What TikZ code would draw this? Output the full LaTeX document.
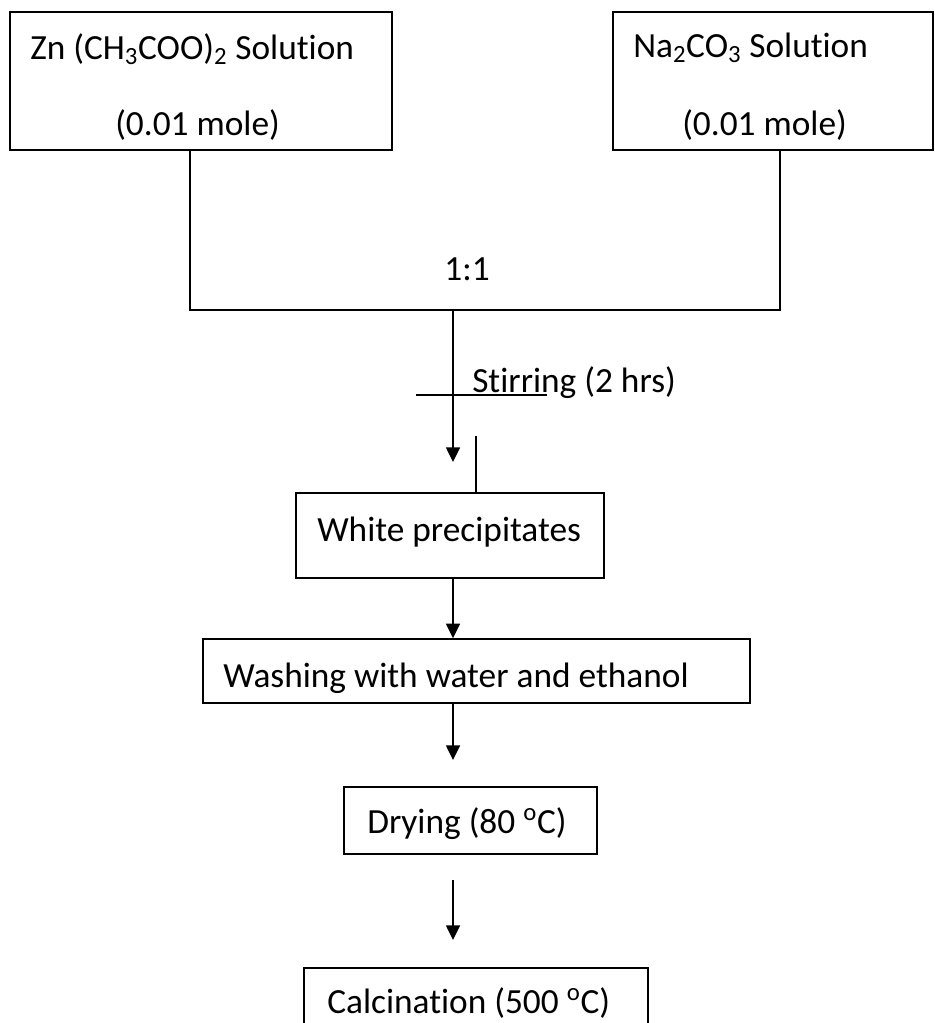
\documentclass[tikz,border=0pt]{standalone}
\usepackage{fontspec}
\setmainfont{Carlito}[Ligatures=NoCommon]
\usepackage{tikz}
\usetikzlibrary{arrows.meta,fit}

\begin{document}
\begin{tikzpicture}[x=0.75pt,y=-0.75pt,
    box/.style={draw, line width=1.1pt, inner sep=0pt, fit={#1}},
    txt/.style={anchor=base west, inner sep=0pt, font=\fontsize{26.5}{32}\selectfont},
    link/.style={line width=1.1pt},
    flow/.style={link, -{Triangle[width=10.5pt,length=11pt]}}]
    \clip (0,0) rectangle (934,1023);

    % starting solutions
    \node[box={(10,12) (392,150)}] (zn) {};
    \node[txt] (zntop) at (30,60) {Zn (CH\textsubscript{3}COO)\textsubscript{2} Solution};
    \node[txt] (znmol) at (115,136) {(0.01 mole)};
    \node[box={(613,12) (933,150)}] (na) {};
    \node[txt] (natop) at (633,58) {Na\textsubscript{2}CO\textsubscript{3} Solution};
    \node[txt] (namol) at (682,136) {(0.01 mole)};

    % mixing
    \coordinate (mixl) at (190,310);
    \coordinate (mixr) at (780,310);
    \coordinate (mixc) at (453,310);
    \draw[link] (zn.south -| mixl) -- (mixl) -- (mixr) -- (na.south -| mixr);
    \node[txt, anchor=base] (ratio) at (467,281) {1:1};

    \coordinate (stirend) at (453,462);
    \draw[flow] (mixc) -- (stirend);
    \coordinate (stirl) at (416,395);
    \coordinate (stirr) at (547,395);
    \draw[link, line width=0.9pt] (stirl) -- (stirr);
    \node[txt] (stir) at (472,392) {Stirring (2 hrs)};

    % process steps
    \node[box={(296,493) (604,578)}] (wp) {};
    \node[txt] (wptxt) at (317,541) {White precipitates};
    \coordinate (tick) at (476,436);
    \draw[link] (tick) -- (wp.north -| tick);

    \node[box={(203,639) (750,703)}] (wash) {};
    \node[txt] (washtxt) at (223,687) {Washing with water and ethanol};
    \draw[flow] (wp.south -| mixc) -- (wash.north -| mixc);

    \node[box={(344,787) (597,854)}] (dry) {};
    \node[txt] (drytxt) at (367,833) {Drying (80 \textsuperscript{o}C)};
    \coordinate (washend) at (453,760);
    \draw[flow] (wash.south -| mixc) -- (washend);

    \node[box={(304,968) (648,1060)}] (calc) {};
    \node[txt] (calctxt) at (327,1013) {Calcination (500 \textsuperscript{o}C)};
    \coordinate (drytop) at (453,880);
    \coordinate (dryend) at (453,940);
    \draw[flow] (drytop) -- (dryend);
\end{tikzpicture}
\end{document}
